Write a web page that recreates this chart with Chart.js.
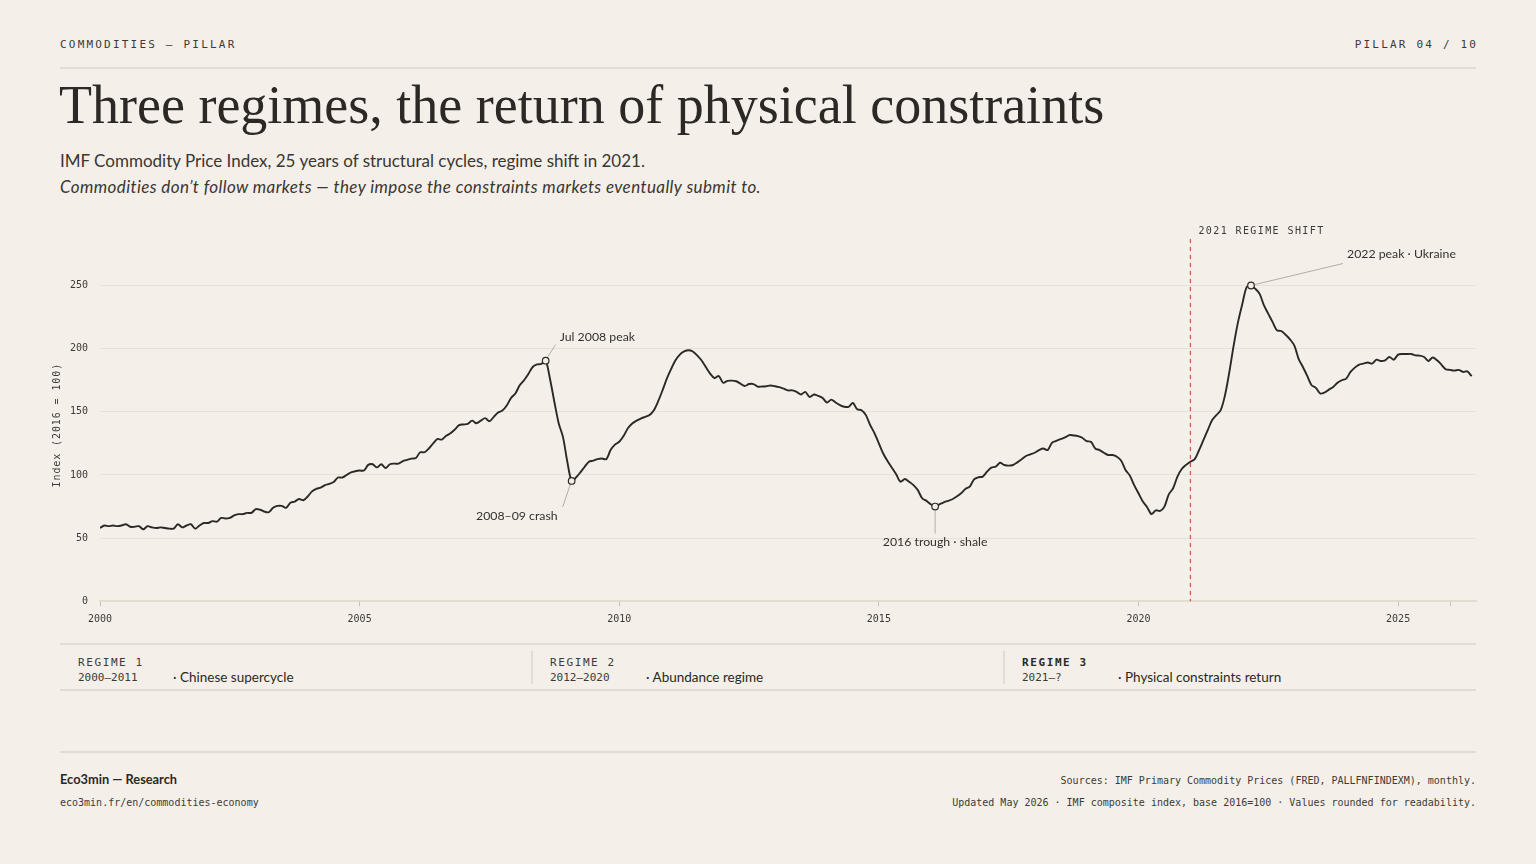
<!DOCTYPE html>
<html><head><meta charset="utf-8">
<script src="https://cdn.jsdelivr.net/npm/chart.js@4.4.1/dist/chart.umd.min.js"></script>
<style>
html,body{margin:0;padding:0;background:#f4f0e9;}
body{width:1536px;height:864px;position:relative;overflow:hidden;color:#2b2825;}
.abs{position:absolute;white-space:nowrap;}
.mono{font-family:"DejaVu Sans Mono",monospace;}
.sans{font-family:Lato,"Open Sans",sans-serif;}
.rule{position:absolute;left:60px;width:1416px;height:2px;background:#e1dcd3;}
.vdiv{position:absolute;top:651px;width:2px;height:33px;background:#e1dcd3;}
.rt{font-size:11px;line-height:13px;letter-spacing:1.6px;color:#3d3a36;}
.rd{font-size:11px;line-height:13px;color:#3d3a36;}
.rs{font-size:13.5px;line-height:16px;color:#2b2825;}
</style></head><body>
<div class="abs mono" style="left:60px;top:39px;font-size:11px;line-height:12px;letter-spacing:2.2px;color:#3d3a36">COMMODITIES — PILLAR</div>
<div class="abs mono" style="right:57.8px;top:39px;font-size:11px;line-height:12px;letter-spacing:2.2px;color:#3d3a36">PILLAR 04 / 10</div>
<div class="rule" style="top:67px"></div>
<div class="abs" style="left:59px;top:78px;font-family:'Liberation Serif',serif;font-size:54px;line-height:54px;color:#2b2825">Three regimes, the return of physical constraints</div>
<div class="abs sans" style="left:60px;top:151px;font-size:17px;line-height:20px;color:#3a3632">IMF Commodity Price Index, 25 years of structural cycles, regime shift in 2021.</div>
<div class="abs sans" style="left:60px;top:177px;font-size:17px;line-height:20px;letter-spacing:0.4px;font-style:italic;color:#3a3632">Commodities don’t follow markets — they impose the constraints markets eventually submit to.</div>

<div class="abs" style="left:40px;top:216.7px;width:1440px;height:418.3px"><canvas id="c"></canvas></div>

<div class="rule" style="top:643px"></div>
<div class="rule" style="top:689px"></div>
<div class="vdiv" style="left:531px"></div>
<div class="vdiv" style="left:1003px"></div>
<div class="abs mono rt" style="left:78px;top:656px">REGIME 1</div>
<div class="abs mono rd" style="left:78px;top:671px">2000–2011</div>
<div class="abs sans rs" style="left:173px;top:669px">· Chinese supercycle</div>
<div class="abs mono rt" style="left:550px;top:656px">REGIME 2</div>
<div class="abs mono rd" style="left:550px;top:671px">2012–2020</div>
<div class="abs sans rs" style="left:646px;top:669px">· Abundance regime</div>
<div class="abs mono rt" style="left:1022px;top:656px;font-weight:bold;color:#2b2825">REGIME 3</div>
<div class="abs mono rd" style="left:1022px;top:671px">2021–?</div>
<div class="abs sans rs" style="left:1118px;top:669px">· Physical constraints return</div>

<div class="rule" style="top:751px"></div>
<div class="abs sans" style="left:60px;top:771px;font-size:12.8px;line-height:16px;font-weight:700;color:#2b2825">Eco3min — Research</div>
<div class="abs mono" style="left:60px;top:797px;font-size:10px;line-height:12px;color:#3d3a36">eco3min.fr/en/commodities-economy</div>
<div class="abs mono" style="right:60px;top:775px;font-size:10px;line-height:12px;color:#3d3a36">Sources: IMF Primary Commodity Prices (FRED, PALLFNFINDEXM), monthly.</div>
<div class="abs mono" style="right:60px;top:797px;font-size:10px;line-height:12px;color:#3d3a36">Updated May 2026 · IMF composite index, base 2016=100 · Values rounded for readability.</div>

<script>
// Monthly IMF commodity index (2016 = 100), Jan 2000 – Jun 2026
const startYear = 2000;
const values = [
  58, 60, 59.5, 60, 59.5, 60, 61, 59, 59, 59.5, 57, 59.5,            // 2000
  58.5, 58, 58.5, 58, 57.5, 57.5, 61, 58.5, 60, 61, 57.5, 60,        // 2001
  62, 62, 63.5, 63, 66, 65.5, 66, 68, 69, 69, 70, 70,                // 2002
  73, 72.5, 71, 70.5, 74, 75.5, 75.5, 74, 78, 79, 81, 80,            // 2003
  83, 87, 89, 90, 92, 93, 94.5, 98, 98, 100, 102, 103,               // 2004
  103.5, 103.5, 108, 108.5, 106, 108.5, 105.5, 108.5, 109, 109, 111, 112, // 2005
  113, 113.5, 118, 118, 121, 125, 128.5, 128, 131, 133, 136, 139.5,  // 2006
  140, 140.5, 143, 141, 143, 145, 142.5, 146, 149.5, 151, 155, 161,  // 2007
  164.5, 171, 175, 180, 185.5, 187.5, 188, 190.5, 176, 158, 141, 130, // 2008
  110.5, 95.3, 98, 102, 106.5, 110.5, 111.3, 112.6, 113, 112.5, 119.7, 124, // 2009
  126.3, 130.8, 137, 140.8, 143, 144.7, 146, 147.4, 151.3, 158.4, 167, 176.3, // 2010
  184, 190.8, 195.3, 197.8, 198.8, 197.8, 194.7, 190.8, 185.5, 180.3, 176.8, 178.4, // 2011
  173, 174.5, 174.7, 174.2, 172.4, 170.5, 172, 172, 170, 170, 170.3, 170.8, // 2012
  170.3, 169.5, 168.4, 167, 167, 165.8, 163.7, 165.8, 161.8, 163.7, 162.6, 161, // 2013
  157.4, 159.7, 157.4, 155.3, 154, 154, 157, 152, 151.3, 147.4, 139.5, 133, // 2014
  125, 117, 111, 105.8, 100.5, 94.7, 96.8, 94.7, 92, 88, 81.6, 79.5, // 2015
  76.8, 75, 76.8, 78.4, 79.5, 80.8, 82.9, 85.5, 89, 90.8, 96.6, 98.2, // 2016
  98.7, 102.6, 105.8, 106.6, 109.7, 107.9, 107.4, 107.9, 110, 112.4, 115, 116.3, // 2017
  117.6, 119.7, 121, 119.7, 125.5, 127, 128.4, 129.7, 131.6, 131.3, 130.8, 129.5, // 2018
  126.8, 126.3, 121, 119.7, 117.6, 115.8, 115.8, 114.5, 111.3, 104, 99.5, 92, // 2019
  85.5, 79, 74.5, 69, 72, 71.6, 75, 84.7, 89.5, 98.7, 104.7, 108,    // 2020
  110.5, 112.6, 119.7, 127.6, 135.5, 143.4, 147.4, 151.3, 163.2, 181.6, 202.6, 221, // 2021
  235.5, 248.7, 250, 247.4, 243.4, 234.2, 227.6, 221, 214.5, 214, 211, 207.4, // 2022
  202.6, 192, 185.5, 178.4, 171, 169, 164.5, 165.3, 167.6, 169.7, 173, 175, // 2023
  176.3, 181.6, 185, 187.4, 188.2, 189, 188.2, 191.3, 190.3, 190.8, 193.4, 191.3, // 2024
  195.3, 195.8, 195.8, 195.8, 194.7, 194.5, 193.4, 190.3, 193, 190.8, 187.4, 183.7, // 2025
  183.2, 182.6, 183.2, 181.6, 182, 178.2                              // 2026
];
const xTicks = [2000, 2005, 2010, 2015, 2020, 2025, 2026];
const yTicks = [0, 50, 100, 150, 200, 250];
const regimeShiftYear = 2021;
const annotations = [
  { idx: 103, text: 'Jul 2008 peak', pos: 'upright' },
  { idx: 109, text: '2008–09 crash', pos: 'downleft' },
  { idx: 193, text: '2016 trough · shale', pos: 'down' },
  { idx: 266, text: '2022 peak · Ukraine', pos: 'farright' }
];

const BG = '#f4f0e9', INK = '#2b2825', MUTED = '#3d3a36', LEADER = '#b3ada4';
const points = values.map((v, i) => ({ x: startYear + i / 12, y: v }));

const annot = {
  id: 'annot',
  afterDatasetsDraw(chart) {
    const { ctx, chartArea: a, scales: { x, y } } = chart;
    ctx.save();
    const rx = x.getPixelForValue(regimeShiftYear);
    ctx.strokeStyle = '#d3613d'; ctx.lineWidth = 1.3; ctx.setLineDash([4, 4]);
    ctx.beginPath(); ctx.moveTo(rx, a.top + 4); ctx.lineTo(rx, a.bottom); ctx.stroke();
    ctx.setLineDash([]);
    ctx.font = '10px "DejaVu Sans Mono"';
    try { ctx.letterSpacing = '1.4px'; } catch (e) {}
    ctx.fillStyle = MUTED; ctx.textBaseline = 'middle'; ctx.textAlign = 'left';
    ctx.fillText('2021 REGIME SHIFT', rx + 8, a.top - 3.5);
    ctx.save();
    try { ctx.letterSpacing = '0.9px'; } catch (e) {}
    ctx.translate(17, (a.top + a.bottom) / 2 + 7);
    ctx.rotate(-Math.PI / 2);
    ctx.textAlign = 'center';
    ctx.fillText('Index (2016 = 100)', 0, 0);
    ctx.restore();
    try { ctx.letterSpacing = '0px'; } catch (e) {}
    ctx.font = '12.3px Lato, "Open Sans", sans-serif';
    annotations.forEach(an => {
      const px = x.getPixelForValue(points[an.idx].x);
      const py = y.getPixelForValue(points[an.idx].y);
      ctx.strokeStyle = LEADER; ctx.lineWidth = 1;
      ctx.beginPath();
      let tx, ty, al;
      if (an.pos === 'upright') { ctx.moveTo(px + 2, py - 4); ctx.lineTo(px + 10, py - 16); tx = px + 14; ty = py - 24; al = 'left'; }
      else if (an.pos === 'downleft') { ctx.moveTo(px - 1.5, py + 4); ctx.lineTo(px - 9, py + 26); tx = px - 14; ty = py + 35; al = 'right'; }
      else if (an.pos === 'down') { ctx.moveTo(px, py + 4); ctx.lineTo(px, py + 27); tx = px; ty = py + 35; al = 'center'; }
      else { ctx.moveTo(px + 4, py - 1); ctx.lineTo(px + 92, py - 22); tx = px + 96; ty = py - 31; al = 'left'; }
      ctx.stroke();
      ctx.beginPath(); ctx.arc(px, py, 3.3, 0, Math.PI * 2);
      ctx.fillStyle = BG; ctx.fill();
      ctx.strokeStyle = INK; ctx.lineWidth = 1.2; ctx.stroke();
      ctx.fillStyle = '#34302c'; ctx.textAlign = al; ctx.textBaseline = 'middle';
      ctx.fillText(an.text, tx, ty);
    });
    ctx.restore();
  }
};

new Chart(document.getElementById('c'), {
  type: 'line',
  data: { datasets: [{ data: points, borderColor: INK, borderWidth: 1.9, pointRadius: 0, tension: 0.3, fill: false }] },
  options: {
    responsive: true, maintainAspectRatio: false, animation: false,
    layout: { padding: { top: 0, right: 4, bottom: 4, left: 0 } },
    plugins: { legend: { display: false }, tooltip: { enabled: false } },
    scales: {
      x: {
        type: 'linear', min: 2000, max: 2026.5,
        afterBuildTicks: s => { s.ticks = xTicks.map(v => ({ value: v })); },
        afterFit: s => { s.height = 30; },
        ticks: { autoSkip: false, maxRotation: 0, padding: 7, color: MUTED, font: { family: '"DejaVu Sans Mono", monospace', size: 10 },
          callback: v => (v % 5 === 0 ? String(v) : '') },
        grid: { drawOnChartArea: false, drawTicks: true, tickLength: 5, color: '#c6c0b5' },
        border: { display: true, color: '#e3ddd1', width: 2 }
      },
      y: {
        min: 0, max: 290,
        afterBuildTicks: s => { s.ticks = yTicks.map(v => ({ value: v })); },
        afterFit: s => { s.width = 60; },
        ticks: { padding: 12, color: MUTED, font: { family: '"DejaVu Sans Mono", monospace', size: 10 } },
        grid: { color: '#e8e2d6', lineWidth: 1, drawTicks: false },
        border: { display: false }
      }
    }
  },
  plugins: [annot]
});
</script>
</body></html>
